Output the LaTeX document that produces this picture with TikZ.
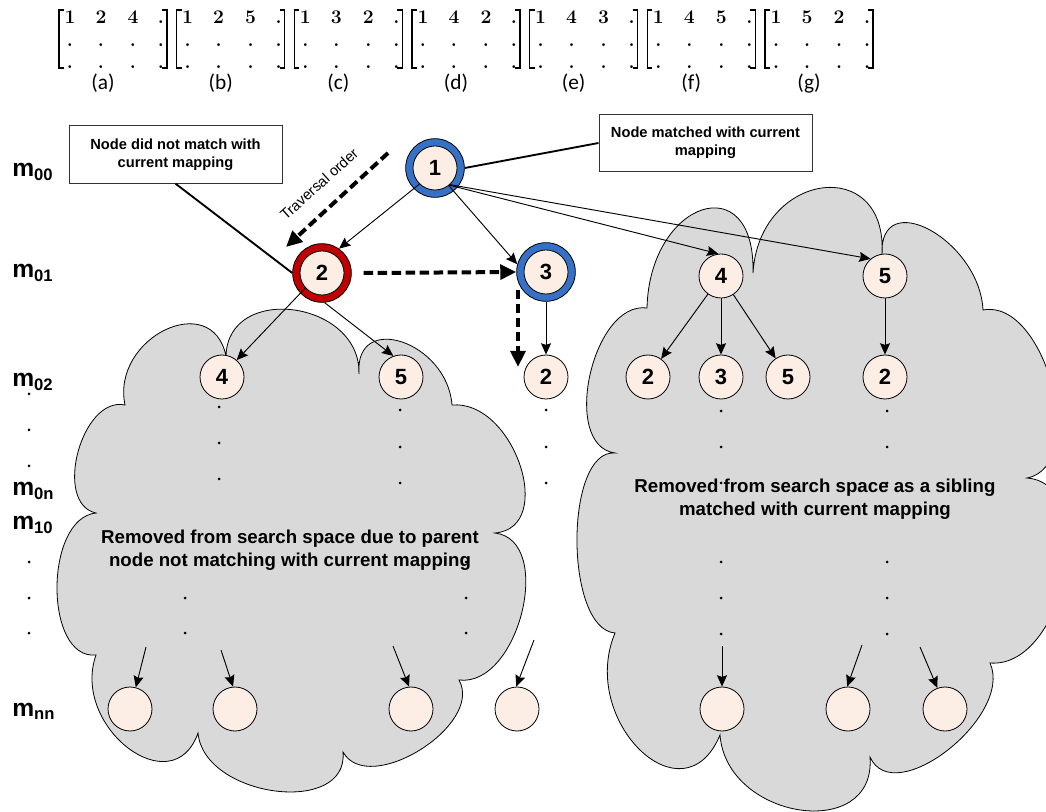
\documentclass[tikz,border=0pt]{standalone}
\usepackage{fontspec}
\newfontfamily\arialfont{Liberation Sans}
\newfontfamily\calibrifont{Carlito}
\usetikzlibrary{arrows.meta,calc}

\definecolor{peach}{HTML}{FCEEE4}
\definecolor{ringblue}{HTML}{3572C6}
\definecolor{ringred}{HTML}{C00000}
\definecolor{cloudgray}{HTML}{D9D9D9}

% one rounded lobe of a cloud outline: from #1 to #2, bulging through #3
\newcommand\cloudarc[3]{.. controls ($0.3333*(#1)+1.3333*(#3)-0.6667*(#2)$) and ($0.3333*(#2)+1.3333*(#3)-0.6667*(#1)$) .. (#2)}

\begin{document}
\begin{tikzpicture}[x=0.75pt,y=-0.75pt,
  num/.style={font=\arialfont\bfseries\fontsize{16.5}{18}\selectfont},
  plain/.style={circle,draw=black,line width=0.6pt,fill=peach,minimum size=33pt,inner sep=0pt,num},
  ringb/.style={circle,draw=black,line width=0.6pt,fill=ringblue,minimum size=44pt,inner sep=0pt},
  ringr/.style={circle,draw=black,line width=0.6pt,fill=ringred,minimum size=44pt,inner sep=0pt},
  edge/.style={draw=black,line width=0.7pt,-{Stealth[length=8.5pt,width=7.5pt,inset=1.2pt]}},
  trav/.style={draw=black,line width=3pt,dash pattern=on 7pt off 3.5pt,-{Triangle[length=12pt,width=11pt]}},
  callout/.style={draw=black,line width=1.4pt},
  note/.style={rectangle,draw=black!80,line width=0.7pt,fill=white,minimum width=159.75pt,minimum height=43pt,align=center,font=\arialfont\bfseries\fontsize{11}{13.5}\selectfont},
  cloud/.style={draw=black,line width=0.6pt,fill=cloudgray},
  cloudtext/.style={align=center,inner sep=0pt,font=\arialfont\bfseries\fontsize{14}{17.5}\selectfont},
  mlab/.style={anchor=base west,inner sep=0pt,font=\arialfont\bfseries\fontsize{18.5}{20}\selectfont},
  ment/.style={anchor=base,inner sep=0pt,font=\rmfamily\bfseries\fontsize{14.5}{16}\selectfont},
  mcap/.style={inner sep=0pt,font=\calibrifont\fontsize{16}{18}\selectfont},
  brk/.style={draw=black,line width=1.1pt},
  dot/.style={fill=black}
]
\useasboundingbox (0,0) rectangle (1046,812);
\fill[white] (0,0) rectangle (1046,812);

% ---------- mapping matrices ----------
\foreach \k/\da/\db/\dc/\lab in {0/1/2/4/a,1/1/2/5/b,2/1/3/2/c,3/1/4/2/d,4/1/4/3/e,5/1/4/5/f,6/1/5/2/g}{
  \pgfmathsetmacro\xx{59+117.67*\k}
  \draw[brk] (\xx+5,10) -- (\xx,10) -- (\xx,68) -- (\xx+5,68);
  \draw[brk] (\xx+103,10) -- (\xx+108,10) -- (\xx+108,68) -- (\xx+103,68);
  \node[ment] (mx\lab-1) at (\xx+11,23.5) {\da};
  \node[ment] (mx\lab-2) at (\xx+42,23.5) {\db};
  \node[ment] (mx\lab-3) at (\xx+74,23.5) {\dc};
  \node[ment] (mx\lab-4) at (\xx+102,23.5) {.};
  \foreach \c in {11,42,74,102}{
    \node[ment] (mx\lab-\c-b) at (\xx+\c,47) {.};
    \node[ment] (mx\lab-\c-c) at (\xx+\c,69) {.};
  }
  \node[mcap] (cap\lab) at (\xx+44,83.5) {(\lab)};
}

% ---------- clouds of pruned sub-trees ----------
\begin{scope}
\clip (0,0) rectangle (1046,812);
\draw[cloud] (96,513)
  \cloudarc{96,513}{125,405}{78,452}
  \cloudarc{125,405}{226,356}{165,330}
  \cloudarc{226,356}{359,374}{294,310}
  \cloudarc{359,374}{452,405}{402,342}
  \cloudarc{452,405}{495,533}{520,465}
  \cloudarc{495,533}{459,680}{522,612}
  \cloudarc{459,680}{343,752}{420,750}
  \cloudarc{343,752}{198,733}{275,791}
  \cloudarc{198,733}{96,655}{128,748}
  \cloudarc{96,655}{96,513}{57,588} -- cycle;
\draw[cloud] (615,453)
  \cloudarc{615,453}{647,308}{590,375}
  \cloudarc{647,308}{753,273}{702,210}
  \cloudarc{753,273}{882,255}{822,188}
  \cloudarc{882,255}{983,310}{930,230}
  \cloudarc{983,310}{1027,478}{1052,385}
  \cloudarc{1027,478}{990,663}{1065,575}
  \cloudarc{990,663}{870,757}{948,750}
  \cloudarc{870,757}{720,735}{800,810}
  \cloudarc{720,735}{615,633}{640,750}
  \cloudarc{615,633}{615,453}{577,540} -- cycle;
\end{scope}

% ---------- level labels ----------
\node[mlab] (m00) at (12,177) {m\raisebox{-2.5pt}{\fontsize{12.5}{13}\selectfont 00}};
\node[mlab] (m01) at (12,278) {m\raisebox{-2.5pt}{\fontsize{12.5}{13}\selectfont 01}};
\node[mlab] (m02) at (12,387) {m\raisebox{-2.5pt}{\fontsize{12.5}{13}\selectfont 02}};
\node[mlab] (m0n) at (12,496) {m\raisebox{-2.5pt}{\fontsize{12.5}{13}\selectfont 0n}};
\node[mlab] (m10) at (12,530) {m\raisebox{-2.5pt}{\fontsize{12.5}{13}\selectfont 10}};
\node[mlab] (mnn) at (12,716) {m\raisebox{-2.5pt}{\fontsize{12.5}{13}\selectfont nn}};

% ---------- ellipsis dots ----------
\foreach \y in {394,430,466,562,598,633}{\fill[dot] (29,\y) circle (1.5);}
\foreach \y in {407,443,479}{\fill[dot] (219,\y) circle (1.5);}
\foreach \y in {410,447,483}{\fill[dot] (400,\y) circle (1.5); \fill[dot] (546,\y) circle (1.5);}
\foreach \y in {562,598,633}{\fill[dot] (185,\y) circle (1.5); \fill[dot] (466,\y) circle (1.5);}
\foreach \y in {411,447,483,562,598,634}{\fill[dot] (721,\y) circle (1.5); \fill[dot] (887,\y) circle (1.5);}

% ---------- callout boxes ----------
\node[note] (box1) at (175.5,154.5) {Node did not match with\\current mapping};
\node[note] (box2) at (705.5,143) {Node matched with current\\mapping};

% ---------- tree nodes ----------
\node[ringb] (r1) at (435,168) {};
\node[plain] (n1) at (435,168) {1};
\node[ringr] (r2) at (322,273) {};
\node[plain] (n2) at (322,273) {2};
\node[ringb] (r3) at (546,272) {};
\node[plain] (n3) at (546,272) {3};
\node[plain] (q4) at (721,276) {4};
\node[plain] (q5) at (885,276) {5};
\node[plain] (p4) at (222,377) {4};
\node[plain] (p5) at (401,377) {5};
\node[plain] (s2) at (546,377) {2};
\node[plain] (q42) at (648,377) {2};
\node[plain] (q43) at (721,377) {3};
\node[plain] (q45) at (788,377) {5};
\node[plain] (q52) at (885,377) {2};
\node[plain] (e1) at (130,709) {};
\node[plain] (e2) at (235,709) {};
\node[plain] (e3) at (411,709) {};
\node[plain] (e4) at (517,709) {};
\node[plain] (e5) at (722,709) {};
\node[plain] (e6) at (848,709) {};
\node[plain] (e7) at (945,709) {};

% ---------- callout leaders ----------
\draw[callout] (box1.south) -- (r2.west);
\draw[callout] (box2.west) -- (r1.east);

% ---------- tree edges ----------
\draw[edge] (n1.226) -- (r2.55);
\draw[edge] (n1.-52) -- (r3.165);
\draw[edge] (n1.-50) -- (q4.97);
\draw[edge] (n1.-48) -- (q5.130);
\draw[edge] (n2.222) -- (p4.49);
\draw[edge] (r2.-85) -- (p5.110);
\draw[edge] (r3.south) -- (s2.north);
\draw[edge] (q4) -- (q42);
\draw[edge] (q4) -- (q43);
\draw[edge] (q4) -- (q45);
\draw[edge] (q5) -- (q52);

\coordinate (u1) at (146,647);
\coordinate (u2) at (221,650);
\coordinate (u3) at (393,646);
\coordinate (u4) at (534,640);
\coordinate (u5) at (722,646);
\coordinate (u6) at (862,645);
\coordinate (u7) at (920,647);
\draw[edge] (u1) -- (e1.75);
\draw[edge] (u2) -- (e2.95);
\draw[edge] (u3) -- (e3.95);
\draw[edge] (u4) -- (e4.92);
\draw[edge] (u5) -- (e5.north);
\draw[edge] (u6) -- (e6.92);
\draw[edge] (u7) -- (e7.110);

% ---------- traversal order ----------
\coordinate (t1) at (388,153);
\coordinate (t2) at (286,247);
\draw[trav] (t1) -- (t2);
\node[rotate=42,inner sep=0pt,font=\arialfont\fontsize{11}{13}\selectfont] (travlab) at (319,184) {Traversal order};
\draw[trav] ([xshift=9pt]r2.east) -- (r3.west);
\coordinate (d1) at (518,290);
\coordinate (d2) at (518,367);
\draw[trav] (d1) -- (d2);

% ---------- cloud captions ----------
\node[cloudtext] (lefttext) at (290,550) {Removed from search space due to parent\\node not matching with current mapping};
\node[cloudtext] (righttext) at (815,499) {Removed from search space as a sibling\\matched with current mapping};
\end{tikzpicture}
\end{document}
